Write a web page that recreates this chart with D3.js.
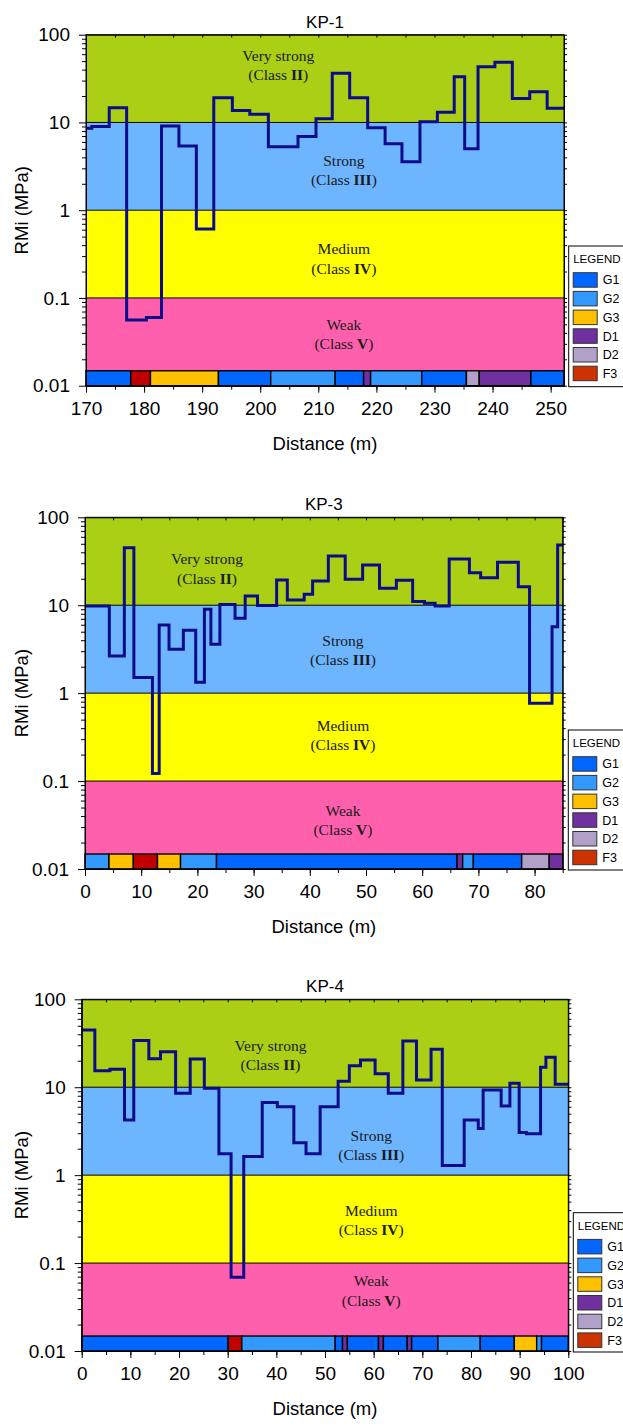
<!DOCTYPE html>
<html>
<head>
<meta charset="utf-8">
<script src="https://cdn.jsdelivr.net/npm/d3@7"></script>
<style>
body { margin: 0; background: #fff; }
svg { display: block; font-family: Arial, "Liberation Sans", sans-serif; }
</style>
</head>
<body>
<svg id="chart" width="623" height="1426"></svg>
<script>
// RMi profiles: distance of each step change (m) and RMi value (MPa) of each step
var kp1Dist = [170, 171, 174, 177, 180.4, 183, 186, 189, 192, 195.2, 198.2, 201.4, 206.5, 209.6, 212.4, 215.4, 218.5, 221.5, 224.4, 227.5, 230.5, 233.4, 235.2, 237.5, 240.4, 243.4, 246.4, 249.4, 252.3];
var kp1Rmi = [8.6, 9.0, 14.7, 0.056, 0.060, 9.1, 5.4, 0.61, 19.1, 13.7, 12.4, 5.3, 6.9, 11.0, 36.3, 19.1, 8.7, 5.7, 3.57, 10.2, 13.1, 33.2, 5.0, 43.2, 48.4, 18.8, 22.4, 14.5];
var kp3Dist = [0, 4.33, 7.0, 8.7, 12.0, 13.2, 14.95, 17.5, 19.7, 21.25, 22.4, 24.0, 26.7, 28.5, 30.7, 34.1, 36.0, 39.0, 40.5, 43.3, 46.3, 49.4, 52.4, 55.4, 58.3, 60.4, 62.3, 64.8, 68.4, 70.4, 73.4, 77.1, 79.1, 83.1, 84.1, 85];
var kp3Rmi = [9.8, 2.64, 45, 1.51, 0.122, 5.96, 3.15, 5.2, 1.33, 9.0, 3.6, 10.2, 7.1, 12.7, 9.9, 19.4, 11.5, 13.3, 18.8, 36.3, 19.7, 28.7, 15.6, 19.2, 11.0, 10.5, 9.8, 33.6, 23.4, 20.6, 30.8, 16.2, 0.766, 5.7, 48.4];
var kp4Dist = [0, 2.7, 5.8, 8.8, 10.7, 13.8, 16.2, 19.3, 22.3, 25.2, 28.2, 30.7, 33.3, 37.1, 40.2, 43.6, 46.1, 49.0, 52.7, 55.0, 57.3, 60.3, 63.0, 66.0, 68.8, 71.8, 74.1, 78.6, 81.5, 82.5, 86.2, 88.0, 89.9, 91.4, 94.3, 95.4, 97.3, 100];
var kp4Rmi = [44.8, 15.4, 16.0, 4.25, 33.9, 21.1, 25.4, 8.55, 21, 9.75, 1.75, 0.069, 1.63, 6.7, 6.0, 2.34, 1.75, 6.0, 11.7, 17.5, 20.4, 14.2, 8.55, 33.6, 12.1, 27, 1.29, 4.25, 3.4, 9.3, 6.1, 11.1, 3.05, 2.95, 16.9, 21.9, 10.8];

// geology strips: unit boundaries (m) and unit codes
var kp1GeoDist = [170, 177.7, 181.1, 192.8, 201.8, 212.9, 217.8, 219.0, 227.8, 235.5, 237.7, 246.6, 252.3];
var kp1GeoUnit = ["G1", "F3", "G3", "G1", "G2", "G1", "D1", "G2", "G1", "D2", "D1", "G1"];
var kp3GeoDist = [0, 4.27, 8.6, 12.9, 17.0, 23.4, 66.2, 67.2, 69.1, 77.7, 82.6, 85];
var kp3GeoUnit = ["G2", "G3", "F3", "G3", "G2", "G1", "D1", "G2", "G1", "D2", "D1"];
var kp4GeoDist = [0, 30.1, 32.9, 52.1, 53.6, 54.6, 61.0, 62.0, 66.9, 67.8, 73.2, 81.9, 88.9, 93.5, 94.5, 100];
var kp4GeoUnit = ["G1", "F3", "G2", "G1", "D1", "G1", "D1", "G1", "D1", "G1", "G2", "G1", "G3", "G2", "G1"];

// tick labels
var kp1XTicks = [170, 180, 190, 200, 210, 220, 230, 240, 250];
var kp3XTicks = [0, 10, 20, 30, 40, 50, 60, 70, 80];
var kp4XTicks = [0, 10, 20, 30, 40, 50, 60, 70, 80, 90, 100];
var yTicks = [0.01, 0.1, 1, 10, 100];
var yTickLabels = ["0.01", "0.1", "1", "10", "100"];

// strength classes
var classNames = ["Very strong", "Strong", "Medium", "Weak"];
var classNumerals = ["II", "III", "IV", "V"];
var classBounds = [100, 10, 1, 0.1, 0.01];
var legendUnits = ["G1", "G2", "G3", "D1", "D2", "F3"];

// colours
var bandColour = ["#aacf14", "#6db5ff", "#ffff00", "#ff60ad"];
var unitColour = {G1: "#0066ff", G2: "#3399ff", G3: "#ffc000", D1: "#7030a0", D2: "#b1a0c7", F3: "#c00000"};
var legendColour = {G1: "#0066ff", G2: "#3399ff", G3: "#ffc000", D1: "#7030a0", D2: "#b1a0c7", F3: "#cc3300"};
var lineColour = "#0c0c8a";

// panel layout (pixels); class label anchors: x in metres, first-line baseline in log10(MPa)
var panels = [
  {title: "KP-1", dist: kp1Dist, rmi: kp1Rmi, geoDist: kp1GeoDist, geoUnit: kp1GeoUnit, xTicks: kp1XTicks,
   left: 86, right: 564, top: 34.7, bottom: 385.7, legendX: 568.7, legendY: 246,
   labelX: [203.1, 214.4, 214.4, 214.4], labelY: [1.704, 0.507, -0.503, -1.365]},
  {title: "KP-3", dist: kp3Dist, rmi: kp3Rmi, geoDist: kp3GeoDist, geoUnit: kp3GeoUnit, xTicks: kp3XTicks,
   left: 85, right: 562.7, top: 517.3, bottom: 869, legendX: 568.3, legendY: 730,
   labelX: [21.7, 45.9, 45.9, 45.9], labelY: [1.465, 0.539, -0.428, -1.395]},
  {title: "KP-4", dist: kp4Dist, rmi: kp4Rmi, geoDist: kp4GeoDist, geoUnit: kp4GeoUnit, xTicks: kp4XTicks,
   left: 81.7, right: 568.3, top: 999.3, bottom: 1351, legendX: 573.3, legendY: 1212.7,
   labelX: [38.8, 59.5, 59.5, 59.5], labelY: [1.416, 0.393, -0.463, -1.266]}
];

var svg = d3.select("#chart");
var fontSans = 'Arial, "Liberation Sans", sans-serif';
var fontSerif = '"Times New Roman", "Liberation Serif", serif';

// minor ticks of the log axis: 2..9 in every decade
var yMinor = [];
[0.01, 0.1, 1, 10].forEach(function(dec) {
  d3.range(2, 10).forEach(function(m) { yMinor.push(dec * m); });
});

function styleAxis(sel, size) {
  sel.attr("font-family", fontSans).attr("font-size", size);
  sel.selectAll("line").attr("stroke", "#000");
  sel.selectAll("path").attr("stroke", "#000");
  sel.selectAll("text").attr("fill", "#000");
}

function drawPanel(p) {
  var x = d3.scaleLinear().domain([p.dist[0], p.dist[p.dist.length - 1]]).range([p.left, p.right]);
  var y = d3.scaleLog().domain([0.01, 100]).range([p.bottom, p.top]);
  var g = svg.append("g");
  var width = p.right - p.left;

// strength class bands
  g.selectAll("rect.band")
      .data(classNames)
    .enter().append("rect")
      .attr("class", "band")
      .attr("x", p.left)
      .attr("width", width)
      .attr("y", function(d, i) { return y(classBounds[i]); })
      .attr("height", function(d, i) { return y(classBounds[i + 1]) - y(classBounds[i]); })
      .attr("fill", function(d, i) { return bandColour[i]; });

  g.selectAll("line.bound")
      .data(classBounds.slice(1, 4))
    .enter().append("line")
      .attr("x1", p.left).attr("x2", p.right)
      .attr("y1", function(d) { return y(d); })
      .attr("y2", function(d) { return y(d); })
      .attr("stroke", "#000").attr("stroke-width", 1);

// class labels
  var lab = g.selectAll("g.classlab")
      .data(classNames)
    .enter().append("g")
      .attr("transform", function(d, i) {
        return "translate(" + x(p.labelX[i]) + "," + y(Math.pow(10, p.labelY[i])) + ")";
      })
      .attr("font-family", fontSerif)
      .attr("font-size", 15.5)
      .attr("fill", "#1a1a1a")
      .attr("text-anchor", "middle");
  lab.append("text").text(function(d) { return d; });
  var second = lab.append("text").attr("y", 19.5);
  second.append("tspan").text("(Class ");
  second.append("tspan").attr("font-weight", "bold").text(function(d, i) { return classNumerals[i]; });
  second.append("tspan").text(")");

// geology strip
  var stripTop = 0.0148;
  g.selectAll("rect.geo")
      .data(p.geoUnit)
    .enter().append("rect")
      .attr("x", function(d, i) { return x(p.geoDist[i]); })
      .attr("width", function(d, i) { return x(p.geoDist[i + 1]) - x(p.geoDist[i]); })
      .attr("y", y(stripTop))
      .attr("height", y(0.01) - y(stripTop))
      .attr("fill", function(d) { return unitColour[d]; })
      .attr("stroke", "#000")
      .attr("stroke-width", 1.4);

// RMi step line
  var pts = p.dist.map(function(d, i) { return [d, p.rmi[Math.min(i, p.rmi.length - 1)]]; });
  g.append("path")
      .datum(pts)
      .attr("d", d3.line()
        .x(function(d) { return x(d[0]); })
        .y(function(d) { return y(d[1]); })
        .curve(d3.curveStepAfter))
      .attr("fill", "none")
      .attr("stroke", lineColour)
      .attr("stroke-width", 3);

// axes
  var xMinor = d3.range(p.dist[0], p.dist[p.dist.length - 1] + 0.01, 5);

  g.append("g").attr("transform", "translate(" + p.left + ",0)")
    .call(d3.axisLeft(y).tickValues(yMinor).tickSize(4).tickFormat("").tickSizeOuter(0))
    .call(styleAxis, 18);
  g.append("g").attr("transform", "translate(" + p.left + ",0)")
    .call(d3.axisLeft(y).tickValues(yTicks).tickSize(7).tickPadding(9)
      .tickFormat(function(d, i) { return yTickLabels[i]; }).tickSizeOuter(0))
    .call(styleAxis, 19);

  g.append("g").attr("transform", "translate(" + p.right + ",0)")
    .call(d3.axisRight(y).tickValues(yMinor.concat(yTicks)).tickSize(3).tickFormat("").tickSizeOuter(0))
    .call(styleAxis, 18);

  g.append("g").attr("transform", "translate(0," + p.top + ")")
    .call(d3.axisBottom(x).tickValues(xMinor).tickSize(3).tickFormat("").tickSizeOuter(0))
    .call(styleAxis, 18);

  g.append("g").attr("transform", "translate(0," + p.bottom + ")")
    .call(d3.axisBottom(x).tickValues(xMinor).tickSize(4).tickFormat("").tickSizeOuter(0))
    .call(styleAxis, 18);
  g.append("g").attr("transform", "translate(0," + p.bottom + ")")
    .call(d3.axisBottom(x).tickValues(p.xTicks).tickSize(7).tickPadding(9).tickSizeOuter(0))
    .call(styleAxis, 19);

  g.append("rect")
      .attr("x", p.left).attr("y", p.top)
      .attr("width", width).attr("height", p.bottom - p.top)
      .attr("fill", "none").attr("stroke", "#000").attr("stroke-width", 1);

// titles
  g.append("text")
      .attr("x", p.left + width / 2).attr("y", p.top - 7)
      .attr("text-anchor", "middle").attr("font-size", 17)
      .text(p.title);
  g.append("text")
      .attr("x", p.left + width / 2).attr("y", p.bottom + 64)
      .attr("text-anchor", "middle").attr("font-size", 18.5)
      .text("Distance (m)");
  g.append("text")
      .attr("transform", "translate(28," + (p.top + p.bottom) / 2 + ") rotate(-90)")
      .attr("text-anchor", "middle").attr("font-size", 18.5)
      .text("RMi (MPa)");

// legend
  var lg = g.append("g").attr("transform", "translate(" + p.legendX + "," + p.legendY + ")");
  lg.append("rect")
      .attr("width", 80).attr("height", p.bottom + 1 - p.legendY)
      .attr("fill", "#fff").attr("stroke", "#000").attr("stroke-width", 1);
  lg.append("text").attr("x", 4.5).attr("y", 17).attr("font-size", 11.5).text("LEGEND");
  var item = lg.selectAll("g.item")
      .data(legendUnits)
    .enter().append("g")
      .attr("transform", function(d, i) { return "translate(4.5," + (26.7 + i * 18.7) + ")"; });
  item.append("rect")
      .attr("width", 24).attr("height", 14.5)
      .attr("fill", function(d) { return legendColour[d]; })
      .attr("stroke", "#333").attr("stroke-width", 1);
  item.append("text").attr("x", 29.5).attr("y", 11.8).attr("font-size", 12.5).text(function(d) { return d; });
}

panels.forEach(drawPanel);
</script>
</body>
</html>
